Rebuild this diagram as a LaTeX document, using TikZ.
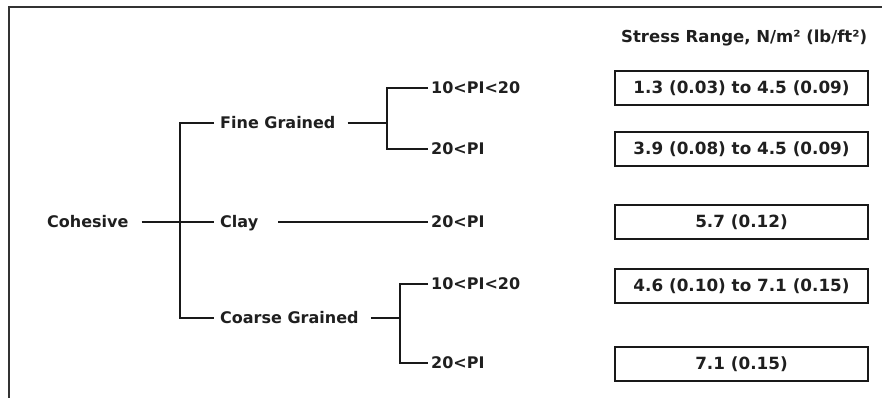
\documentclass[tikz,border=0pt]{standalone}
\usepackage{fontspec}
\setmainfont{DejaVu Sans}
\begin{document}
\begin{tikzpicture}[x=1pt,y=-1pt,
  ln/.style={line width=1.6pt,draw=black!90},
  lbl/.style={inner sep=0pt,text height=11.7pt,text depth=0pt,font=\bfseries\fontsize{16}{18}\selectfont,text=black!88},
  valbox/.style={draw=black!90,line width=1.5pt,minimum width=253pt,minimum height=34pt,inner sep=0pt,font=\bfseries\fontsize{16.8}{19}\selectfont,text=black!88},
  hdr/.style={inner sep=0pt,font=\bfseries\fontsize{16.5}{19}\selectfont,text=black!88}]
\useasboundingbox (0,0) rectangle (882,398);
% frame
\draw[line width=1.8pt,draw=black!80] (9,398) -- (9,7) -- (882,7);
% labels
\node[lbl,anchor=west] (coh) at (47,222) {Cohesive};
\node[lbl,anchor=west] (fg) at (220,123) {Fine Grained};
\node[lbl,anchor=west] (clay) at (220,222) {Clay};
\node[lbl,anchor=west] (cg) at (220,318) {Coarse Grained};
\node[lbl,anchor=west] (fa) at (431,88) {10<PI<20};
\node[lbl,anchor=west] (fb) at (431,149) {20<PI};
\node[lbl,anchor=west] (ca) at (431,222) {20<PI};
\node[lbl,anchor=west] (ga) at (431,284) {10<PI<20};
\node[lbl,anchor=west] (gb) at (431,363) {20<PI};
% junctions
\coordinate (t1) at (180,123);
\coordinate (t2) at (180,222);
\coordinate (t3) at (180,318);
\coordinate (f1) at (387,88);
\coordinate (f2) at (387,149);
\coordinate (f0) at (387,123);
\coordinate (g1) at (400,284);
\coordinate (g2) at (400,363);
\coordinate (g0) at (400,318);
% connectors
\draw[ln] ([xshift=13pt]coh.east) -- (t2) -- ([xshift=-6pt]clay.west);
\draw[ln] ([xshift=-6pt]fg.west) -- (t1) -- (t3) -- ([xshift=-6pt]cg.west);
\draw[ln] ([xshift=12pt]fg.east) -- (f0);
\draw[ln] ([xshift=-3pt]fa.west) -- (f1) -- (f2) -- ([xshift=-3pt]fb.west);
\draw[ln] ([xshift=20pt]clay.east) -- ([xshift=-3pt]ca.west);
\draw[ln] ([xshift=12pt]cg.east) -- (g0);
\draw[ln] ([xshift=-3pt]ga.west) -- (g1) -- (g2) -- ([xshift=-3pt]gb.west);
% right column
\node[hdr,anchor=west] (hd) at (621,38) {Stress Range, N/m² (lb/ft²)};
\node[valbox] (v1) at (741.5,88) {1.3 (0.03) to 4.5 (0.09)};
\node[valbox] (v2) at (741.5,149) {3.9 (0.08) to 4.5 (0.09)};
\node[valbox] (v3) at (741.5,222) {5.7 (0.12)};
\node[valbox] (v4) at (741.5,286) {4.6 (0.10) to 7.1 (0.15)};
\node[valbox] (v5) at (741.5,364) {7.1 (0.15)};
\end{tikzpicture}
\end{document}
